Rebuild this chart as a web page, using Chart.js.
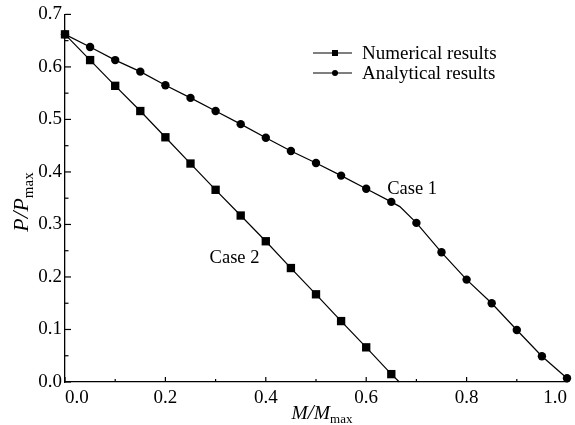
<!DOCTYPE html>
<html>
<head>
<meta charset="utf-8">
<script src="https://cdn.jsdelivr.net/npm/chart.js@4.4.1/dist/chart.umd.min.js"></script>
<style>
  html, body { margin: 0; padding: 0; background: #fff; }
  #wrap { width: 575px; height: 425px; }
</style>
</head>
<body>
<div id="wrap"><canvas id="chart"></canvas></div>
<script>
// Numerical results (squares), last point is the unmarked end of the line
const numX = [0, 0.05, 0.1, 0.15, 0.2, 0.25, 0.3, 0.35, 0.4, 0.45, 0.5, 0.55, 0.6, 0.65, 0.666];
const numY = [0.662, 0.613, 0.564, 0.516, 0.466, 0.416, 0.366, 0.317, 0.268, 0.217, 0.167, 0.116, 0.066, 0.015, 0];

// Analytical results (circles), 0.667 is the unmarked kink of the line
const anaX = [0, 0.05, 0.1, 0.15, 0.2, 0.25, 0.3, 0.35, 0.4, 0.45, 0.5, 0.55, 0.6, 0.65, 0.667, 0.7, 0.75, 0.8, 0.85, 0.9, 0.95, 1.0];
const anaY = [0.662, 0.638, 0.613, 0.591, 0.565, 0.541, 0.516, 0.491, 0.465, 0.440, 0.417, 0.393, 0.368, 0.343, 0.334, 0.303, 0.247, 0.195, 0.150, 0.099, 0.049, 0.007];

const seriesNames = ['Numerical results', 'Analytical results'];
const caseLabels = [
  { text: 'Case 1', x: 0.642, y: 0.368 },
  { text: 'Case 2', x: 0.288, y: 0.235 }
];

const FONT = '"Liberation Serif", "Times New Roman", serif';

const toPoints = (xs, ys) => xs.map((v, i) => ({ x: v, y: ys[i] }));
// markers only on the 0.05 grid of computed points
const onGrid = (ctx) => {
  const v = ctx.raw ? ctx.raw.x : 0;
  return Math.abs(v / 0.05 - Math.round(v / 0.05)) < 1e-6;
};

const decor = {
  id: 'decor',
  afterDraw(chart) {
    const { ctx, scales: { x, y }, chartArea } = chart;
    ctx.save();
    ctx.strokeStyle = '#000';
    ctx.fillStyle = '#000';
    ctx.lineWidth = 1.2;

    // inward ticks
    for (let i = 0; i <= 10; i++) {
      const px = x.getPixelForValue(i / 10);
      const len = i % 2 === 0 ? 5 : 3;
      ctx.beginPath();
      ctx.moveTo(px, chartArea.bottom);
      ctx.lineTo(px, chartArea.bottom - len);
      ctx.stroke();
    }
    for (let i = 0; i <= 14; i++) {
      const py = y.getPixelForValue(i / 20);
      const len = i % 2 === 0 ? 6 : 3.5;
      ctx.beginPath();
      ctx.moveTo(chartArea.left, py);
      ctx.lineTo(chartArea.left + len, py);
      ctx.stroke();
    }

    // legend
    const rows = [53, 73];
    chart.data.datasets.forEach((ds, i) => {
      const ly = rows[i];
      ctx.lineWidth = 1.2;
      ctx.beginPath();
      ctx.moveTo(313, ly);
      ctx.lineTo(352, ly);
      ctx.stroke();
      ctx.beginPath();
      if (ds.pointStyle === 'rect') {
        ctx.fillRect(332, ly - 3, 6, 6);
      } else {
        ctx.arc(335, ly, 3, 0, Math.PI * 2);
        ctx.fill();
      }
      ctx.font = '19px ' + FONT;
      ctx.textAlign = 'left';
      ctx.textBaseline = 'middle';
      ctx.fillText(seriesNames[i], 362, ly + 1);
    });

    // case annotations
    ctx.font = '18.5px ' + FONT;
    ctx.textAlign = 'left';
    ctx.textBaseline = 'middle';
    caseLabels.forEach(c => {
      ctx.fillText(c.text, x.getPixelForValue(c.x), y.getPixelForValue(c.y));
    });

    // axis titles with subscripts
    const drawTitle = (letter, size) => {
      const parts = [
        { t: letter, f: 'italic ' + size + 'px ' + FONT, dy: 0 },
        { t: '/', f: 'italic ' + (size + 2) + 'px ' + FONT, dy: 0 },
        { t: letter, f: 'italic ' + size + 'px ' + FONT, dy: 0 },
        { t: 'max', f: Math.round(size * 0.66) + 'px ' + FONT, dy: size * 0.22 }
      ];
      let w = 0;
      parts.forEach(p => { ctx.font = p.f; w += ctx.measureText(p.t).width; });
      let cx = -w / 2;
      ctx.textAlign = 'left';
      ctx.textBaseline = 'alphabetic';
      parts.forEach(p => {
        ctx.font = p.f;
        ctx.fillText(p.t, cx, p.dy);
        cx += ctx.measureText(p.t).width;
      });
    };
    ctx.save();
    ctx.translate(322, 419);
    drawTitle('M', 19.5);
    ctx.restore();
    ctx.save();
    ctx.translate(28, 202);
    ctx.rotate(-Math.PI / 2);
    drawTitle('P', 22);
    ctx.restore();

    ctx.restore();
  }
};

new Chart(document.getElementById('chart'), {
  type: 'scatter',
  data: {
    datasets: [
      {
        label: seriesNames[0],
        data: toPoints(numX, numY),
        showLine: true,
        borderColor: '#000',
        borderWidth: 1.2,
        pointStyle: 'rect',
        pointRadius: (c) => onGrid(c) ? 5.9 : 0,
        pointBackgroundColor: '#000',
        pointBorderWidth: 0,
        clip: false,
        order: 1
      },
      {
        label: seriesNames[1],
        data: toPoints(anaX, anaY),
        showLine: true,
        borderColor: '#000',
        borderWidth: 1.2,
        pointStyle: 'circle',
        pointRadius: (c) => onGrid(c) ? 4.2 : 0,
        pointBackgroundColor: '#000',
        pointBorderWidth: 0,
        clip: false,
        order: 0
      }
    ]
  },
  plugins: [decor],
  options: {
    responsive: true,
    maintainAspectRatio: false,
    animation: false,
    layout: { padding: { top: 13, right: 8, left: 0, bottom: 0 } },
    plugins: {
      legend: { display: false },
      tooltip: { enabled: false }
    },
    scales: {
      x: {
        type: 'linear',
        min: 0,
        max: 1.0,
        grid: { display: false, drawTicks: false },
        border: { display: true, color: '#000', width: 1.3 },
        ticks: {
          stepSize: 0.2,
          align: 'inner',
          padding: 5,
          color: '#000',
          font: { family: FONT, size: 19 },
          callback: (v) => v.toFixed(1)
        },
        afterFit: (s) => { s.height = 43; }
      },
      y: {
        type: 'linear',
        min: 0,
        max: 0.7,
        grid: { display: false, drawTicks: false },
        border: { display: true, color: '#000', width: 1.3 },
        ticks: {
          stepSize: 0.1,
          padding: 3,
          color: '#000',
          font: { family: FONT, size: 19 },
          callback: (v) => v.toFixed(1)
        },
        afterFit: (s) => { s.width = 65; }
      }
    }
  }
});
</script>
</body>
</html>
